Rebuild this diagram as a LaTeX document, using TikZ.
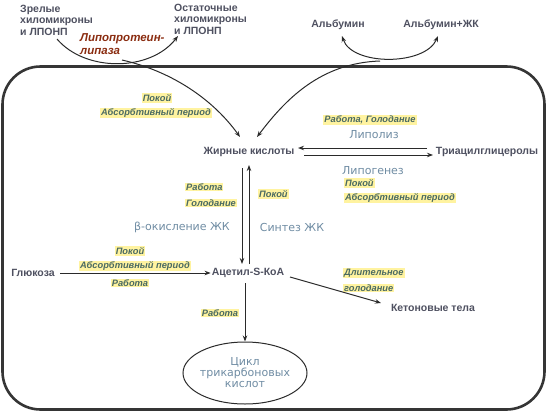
\documentclass[tikz,border=0pt]{standalone}
\usepackage{fontspec}
\setmainfont{Liberation Sans}
\newfontfamily\procfont{DejaVu Sans}
\usetikzlibrary{arrows.meta,shapes.geometric}
\definecolor{maintxt}{HTML}{4E5060}
\definecolor{bluetxt}{HTML}{6F8CA3}
\definecolor{condtxt}{HTML}{4A6A62}
\definecolor{hl}{HTML}{FFF3A0}
\definecolor{lipase}{HTML}{8A2C10}
\definecolor{linec}{HTML}{2A2A2A}
\begin{document}
\begin{tikzpicture}[x=1pt,y=-1pt,
  main/.style={font=\fontsize{10.5}{11.5}\selectfont\bfseries, text=maintxt, inner sep=1pt, align=center},
  proc/.style={font=\procfont\fontsize{11}{11}\selectfont, text=bluetxt, inner sep=1pt, align=center},
  cond/.style={font=\fontsize{9.3}{10}\selectfont\bfseries\itshape, text=condtxt, fill=hl, inner sep=1pt},
  arr/.style={draw=linec, line width=1pt, -{Stealth[length=6pt,width=4.5pt]}}]
\useasboundingbox (0,0) rectangle (547,413);
% cell box
\draw[line width=2.6pt, draw=linec!95, rounded corners=38pt] (2.5,66.5) rectangle (544.5,409.5);

% outer texts
\node[main, align=left, anchor=west] (zrel) at (19,20) {Зрелые\\хиломикроны\\и ЛПОНП};
\node[main, align=left, anchor=west] (ost) at (173,19) {Остаточные\\хиломикроны\\и ЛПОНП};
\node[font=\fontsize{11.5}{12.5}\selectfont\bfseries\itshape, text=lipase, align=left, anchor=west, inner sep=1pt] (lpl) at (79,44) {Липопротеин-\\липаза};
\node[main] (alb) at (338,25) {Альбумин};
\node[main] (albzk) at (441,25) {Альбумин+ЖК};

% inner main nodes
\node[main] (fa) at (249,152) {Жирные кислоты};
\node[main] (tag) at (487,152) {Триацилглицеролы};
\node[main] (glc) at (33,273) {Глюкоза};
\node[main] (acoa) at (248,273) {Ацетил-S-КоА};
\node[main] (ket) at (433,308) {Кетоновые тела};
\node[ellipse, draw=linec, line width=1pt, minimum width=124pt, minimum height=62pt, inner sep=0pt] (tca) at (245,373) {};
\node[proc] (tcat) at (245,373) {Цикл\\трикарбоновых\\кислот};

% process labels
\node[proc] (lipol) at (374,135) {Липолиз};
\node[proc] (lipog) at (373,171) {Липогенез};
\node[proc] (box) at (182,227) {β-окисление ЖК};
\node[proc] (synt) at (292,227) {Синтез ЖК};

% condition labels
\node[cond] (c1) at (157,98) {Покой};
\node[cond] (c2) at (156,113) {Абсорбтивный период};
\node[cond] (c3) at (370,120) {Работа, Голодание};
\node[cond, anchor=west] (c4) at (344,183) {Покой};
\node[cond, anchor=west] (c5) at (344,198) {Абсорбтивный период};
\node[cond, anchor=west] (c6) at (185,187) {Работа};
\node[cond, anchor=west] (c7) at (185,203) {Голодание};
\node[cond, anchor=west] (c8) at (258,194) {Покой};
\node[cond] (c9) at (130,251) {Покой};
\node[cond] (c10) at (135,266) {Абсорбтивный период};
\node[cond] (c11) at (130,283) {Работа};
\node[cond, anchor=west] (c12) at (343,273) {Длительное};
\node[cond, anchor=west] (c13) at (343,288) {голодание};
\node[cond] (c14) at (220,313) {Работа};

% coordinates for curves and arrow ends
\coordinate (lstart) at (57,39);
\coordinate (lend) at (178,36);
\coordinate (lbot) at (122,60);
\coordinate (fain1) at (240,137);
\coordinate (fain2) at (257,137);
\coordinate (abot) at (380,61);
\coordinate (aleft) at (342,36);
\coordinate (aright) at (438,36);
\coordinate (t1a) at (427,148);
\coordinate (t1b) at (298,148);
\coordinate (t2a) at (304,155);
\coordinate (t2b) at (433,155);
\coordinate (d1a) at (242,168);
\coordinate (d1b) at (242,264);
\coordinate (u1a) at (249,264);
\coordinate (u1b) at (249,165);
\coordinate (ka) at (290,277);
\coordinate (kb) at (381,303);
\coordinate (ga) at (60,273);
\coordinate (ta) at (245,283);

% connectors
\draw[arr] (lstart) .. controls (85,72) and (150,72) .. (lend);
\draw[arr] (lbot) .. controls (175,72) and (215,102) .. (fain1);
\draw[arr, {Stealth[length=6pt,width=4.5pt]}-{Stealth[length=6pt,width=4.5pt]}] (aleft) .. controls (352,66) and (425,66) .. (aright);
\draw[arr] (abot) .. controls (320,63) and (285,100) .. (fain2);

\draw[arr] (t1a) -- (t1b);
\draw[arr] (t2a) -- (t2b);
\draw[arr] (d1a) -- (d1b);
\draw[arr] (u1a) -- (u1b);
\draw[arr] (ga) -- (acoa.west);
\draw[arr] (ka) -- (kb);
\draw[arr] (ta) -- (tca.north);
\end{tikzpicture}
\end{document}
